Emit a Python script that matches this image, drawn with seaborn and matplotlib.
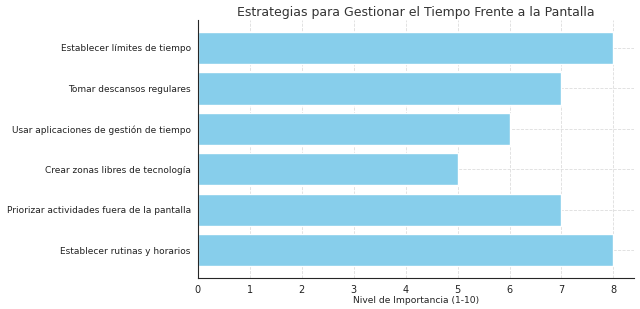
import matplotlib
matplotlib.use("Agg")
import pandas as pd
import matplotlib.pyplot as plt
import seaborn as sns

estrategias = [
    "Establecer límites de tiempo",
    "Tomar descansos regulares",
    "Usar aplicaciones de gestión de tiempo",
    "Crear zonas libres de tecnología",
    "Priorizar actividades fuera de la pantalla",
    "Establecer rutinas y horarios",
]
importancia = [8, 7, 6, 5, 7, 8]

df = pd.DataFrame({"Estrategia": estrategias, "Importancia": importancia})

sns.set_style("white")
plt.rcParams['font.family'] = ['DejaVu Sans']

fig, ax = plt.subplots(figsize=(6.4, 3.09), dpi=100)
sns.barplot(data=df, x="Importancia", y="Estrategia", orient="h",
            color="skyblue", saturation=1, width=0.8, ax=ax)

ax.set_title("Estrategias para Gestionar el Tiempo Frente a la Pantalla",
             fontsize=9, color="#333333", pad=3)
ax.set_xlabel("Nivel de Importancia (1-10)", fontsize=6.6, labelpad=1, color="#222222")
ax.set_ylabel("")
ax.tick_params(axis="y", labelsize=6.5, length=3, pad=2, labelcolor="#222222")
ax.tick_params(axis="x", labelsize=7, length=3, pad=2, labelcolor="#222222")
ax.set_xlim(0, 8.4)
ax.set_ylim(5.69, -0.69)
ax.grid(True, linestyle="--", color="#dddddd", linewidth=0.6)
ax.set_axisbelow(True)
sns.despine(ax=ax)

fig.subplots_adjust(left=0.309, right=0.991, top=0.935, bottom=0.10)
fig.savefig("out.png", dpi=100)
